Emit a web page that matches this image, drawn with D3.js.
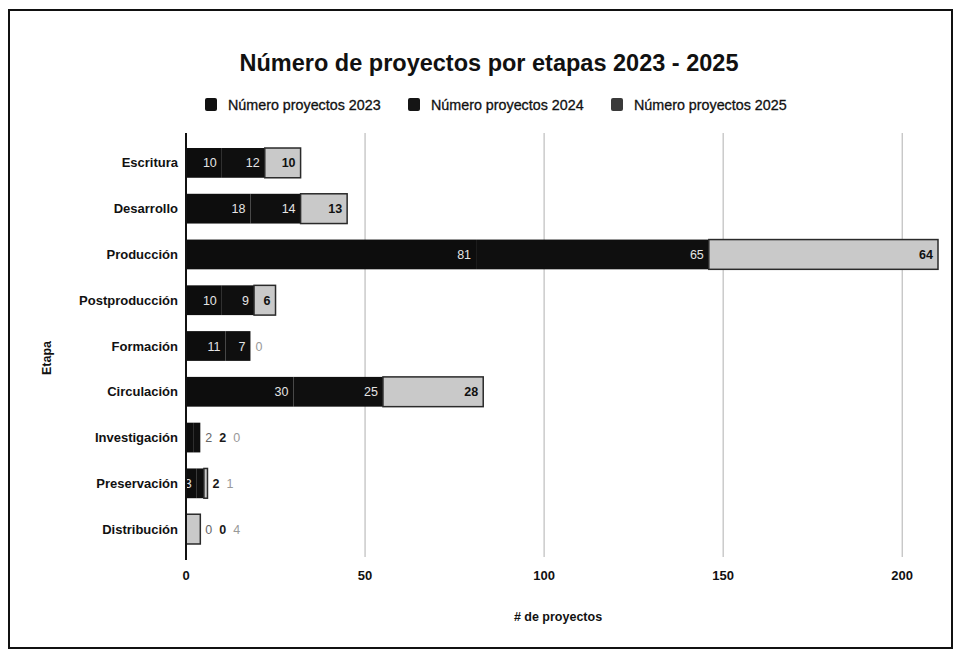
<!DOCTYPE html>
<html><head><meta charset="utf-8">
<script src="https://cdn.jsdelivr.net/npm/d3@7"></script>
<style>body{margin:0;background:#fff}svg{display:block}text{font-family:"Liberation Sans",Arial,sans-serif}</style>
</head><body><svg id="c" width="957" height="655"></svg>
<script>
const categories = ["Escritura","Desarrollo","Producción","Postproducción","Formación","Circulación","Investigación","Preservación","Distribución"];
const seriesNames = ["Número proyectos 2023","Número proyectos 2024","Número proyectos 2025"];
const values2023 = [10,18,81,10,11,30,2,3,0];
const values2024 = [12,14,65,9,7,25,2,2,0];
const values2025 = [10,13,64,6,0,28,0,1,4];
const xTicks = [0,50,100,150,200];
const title = "Número de proyectos por etapas 2023 - 2025";
const xTitle = "# de proyectos";
const yTitle = "Etapa";

const svg = d3.select("#c");
// frame
svg.append("rect").attr("x",9).attr("y",10).attr("width",943).attr("height",638)
  .attr("fill","none").attr("stroke","#111").attr("stroke-width",2);

const x = d3.scaleLinear().domain([0,210]).range([186,938]);
const y = d3.scaleBand().domain(categories).range([140,552]).paddingInner(0.35).paddingOuter(0.175);

// gridlines
svg.append("g").selectAll("line").data(xTicks.filter(t=>t>0)).join("line")
  .attr("x1",d=>x(d)).attr("x2",d=>x(d)).attr("y1",133).attr("y2",557)
  .attr("stroke","#b0b0b0").attr("stroke-width",1);

const fills = ["#0d0d0d","#0f0f0f","#c9c9c9"];
const strokes = ["#0d0d0d","#0f0f0f","#2a2a2a"];
const outColors = ["#666","#1a1a1a","#999"];
const rows = categories.map((c,i)=>({cat:c, vals:[values2023[i],values2024[i],values2025[i]]}));
const stack = d3.stack().keys([0,1,2]).value((d,k)=>d.vals[k])(rows);

const gBars = svg.append("g");
stack.forEach((layer,k)=>{
  gBars.selectAll(null).data(layer.filter(d=>d[1]>d[0])).join("rect")
    .attr("x",d=>x(d[0])).attr("width",d=>x(d[1])-x(d[0]))
    .attr("y",d=>y(d.data.cat)).attr("height",y.bandwidth())
    .attr("fill",fills[k]).attr("stroke",strokes[k]).attr("stroke-width",k===2?1.5:0);
});

// labels
const gLab = svg.append("g").attr("font-size",12.5);
rows.forEach((r,i)=>{
  let outside=false;
  const total = d3.sum(r.vals);
  let outX = x(total)+5;
  let cum=0;
  const cy = y(r.cat)+y.bandwidth()/2+4.5;
  r.vals.forEach((v,k)=>{
    const x0=x(cum), x1=x(cum+v); cum+=v;
    const tw = String(v).length*7;
    if(!outside && (x1-x0) >= tw+3){
      gLab.append("text").attr("x",x1-5).attr("y",cy).attr("text-anchor","end")
        .attr("fill",k===2?"#111":"#e4e4e4").attr("font-weight",k===2?"bold":"normal").text(v);
    } else {
      outside=true;
      gLab.append("text").attr("x",outX).attr("y",cy).attr("text-anchor","start")
        .attr("fill",outColors[k]).attr("font-weight",k===1?"bold":"normal").text(v);
      outX += tw+7;
    }
  });
});

// y axis line
svg.append("line").attr("x1",x(0)).attr("x2",x(0)).attr("y1",133).attr("y2",560)
  .attr("stroke","#111").attr("stroke-width",2);

// y labels
svg.append("g").selectAll("text").data(categories).join("text")
  .attr("x",178).attr("y",d=>y(d)+y.bandwidth()/2+4.5).attr("text-anchor","end")
  .attr("font-size",13).attr("font-weight","bold").attr("fill","#111").text(d=>d);

// x tick labels
svg.append("g").selectAll("text").data(xTicks).join("text")
  .attr("x",d=>x(d)).attr("y",580).attr("text-anchor","middle")
  .attr("font-size",13).attr("font-weight","bold").attr("fill","#111").text(d=>d);

// axis titles
svg.append("text").attr("x",558).attr("y",621).attr("text-anchor","middle")
  .attr("font-size",12.5).attr("font-weight","bold").attr("fill","#111").text(xTitle);
svg.append("text").attr("transform","translate(51,358) rotate(-90)").attr("text-anchor","middle")
  .attr("font-size",12.5).attr("font-weight","bold").attr("fill","#111").text(yTitle);

// title
svg.append("text").attr("x",489).attr("y",71).attr("text-anchor","middle")
  .attr("font-size",23.5).attr("font-weight","bold").attr("fill","#111").text(title);

// legend
const legX = [205,408,611];
const legFill = ["#111","#151515","#3a3a3a"];
const lg = svg.append("g");
seriesNames.forEach((s,k)=>{
  lg.append("rect").attr("x",legX[k]).attr("y",98).attr("width",12).attr("height",13).attr("rx",2)
    .attr("fill",legFill[k]);
  lg.append("text").attr("x",legX[k]+23).attr("y",110).attr("font-size",14.3)
    .attr("fill","#111").attr("stroke","#111").attr("stroke-width",0.3).text(s);
});
</script></body></html>
